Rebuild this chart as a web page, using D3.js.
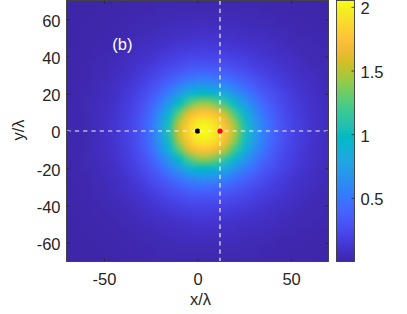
<!DOCTYPE html>
<html>
<head>
<meta charset="utf-8">
<script src="https://cdn.jsdelivr.net/npm/d3@7"></script>
<style>
html,body{margin:0;padding:0;background:#fff;}
svg{display:block;font-family:"Liberation Sans",Arial,Helvetica,sans-serif;}
</style>
</head>
<body>
<svg id="chart" width="407" height="314"></svg>
<script>
// ---- data ----
const xNodes = [-70,-65,-60,-55,-50,-45,-40,-35,-30,-25,-20,-15,-10,-5,0,5,10,15,20,25,30,35,40,45,50,55,60,65,70];
const yNodes = [70,65,60,55,50,45,40,35,30,25,20,15,10,5,0,-5,-10,-15,-20,-25,-30,-35,-40,-45,-50,-55,-60,-65,-70];
// intensity[row][col]; row follows yNodes (top to bottom), col follows xNodes
const intensity = [
[0.00,0.00,0.00,0.00,0.00,0.00,0.01,0.01,0.01,0.02,0.02,0.02,0.02,0.02,0.02,0.02,0.02,0.02,0.02,0.02,0.02,0.02,0.01,0.01,0.01,0.01,0.01,0.00,0.00],
[0.00,0.00,0.00,0.00,0.01,0.01,0.01,0.02,0.02,0.02,0.03,0.03,0.03,0.03,0.03,0.03,0.03,0.03,0.03,0.03,0.03,0.02,0.02,0.02,0.01,0.01,0.01,0.01,0.00],
[0.00,0.00,0.00,0.01,0.01,0.01,0.02,0.02,0.03,0.03,0.04,0.04,0.05,0.05,0.05,0.05,0.05,0.05,0.05,0.04,0.04,0.03,0.03,0.02,0.02,0.02,0.01,0.01,0.01],
[0.00,0.00,0.01,0.01,0.01,0.02,0.02,0.03,0.04,0.04,0.05,0.06,0.07,0.07,0.08,0.08,0.07,0.07,0.07,0.06,0.05,0.05,0.04,0.03,0.03,0.02,0.02,0.01,0.01],
[0.00,0.00,0.01,0.01,0.02,0.02,0.03,0.04,0.05,0.06,0.07,0.08,0.09,0.10,0.11,0.11,0.11,0.10,0.09,0.08,0.08,0.07,0.06,0.05,0.04,0.03,0.03,0.02,0.02],
[0.00,0.01,0.01,0.02,0.02,0.03,0.04,0.05,0.07,0.08,0.10,0.12,0.14,0.15,0.16,0.16,0.15,0.14,0.13,0.12,0.10,0.09,0.08,0.06,0.05,0.04,0.03,0.03,0.02],
[0.01,0.01,0.01,0.02,0.03,0.04,0.05,0.07,0.09,0.11,0.14,0.17,0.19,0.21,0.22,0.22,0.21,0.20,0.18,0.17,0.14,0.12,0.10,0.08,0.07,0.05,0.04,0.03,0.03],
[0.01,0.01,0.02,0.03,0.03,0.05,0.07,0.09,0.12,0.15,0.19,0.23,0.26,0.29,0.31,0.31,0.30,0.28,0.25,0.23,0.19,0.16,0.14,0.11,0.09,0.07,0.05,0.04,0.03],
[0.01,0.01,0.02,0.03,0.04,0.06,0.08,0.11,0.15,0.20,0.25,0.31,0.36,0.42,0.45,0.45,0.43,0.40,0.35,0.31,0.26,0.21,0.17,0.14,0.11,0.08,0.07,0.05,0.04],
[0.01,0.02,0.02,0.04,0.05,0.07,0.10,0.14,0.19,0.25,0.32,0.42,0.51,0.60,0.65,0.66,0.63,0.57,0.49,0.41,0.34,0.27,0.22,0.17,0.13,0.10,0.08,0.06,0.04],
[0.01,0.02,0.03,0.04,0.06,0.08,0.12,0.17,0.23,0.31,0.42,0.56,0.70,0.87,0.96,0.97,0.92,0.81,0.68,0.55,0.44,0.34,0.27,0.21,0.16,0.12,0.09,0.07,0.05],
[0.01,0.02,0.03,0.05,0.07,0.09,0.14,0.19,0.27,0.37,0.52,0.71,0.97,1.22,1.39,1.41,1.31,1.13,0.93,0.71,0.55,0.42,0.32,0.24,0.18,0.14,0.10,0.08,0.06],
[0.02,0.02,0.03,0.05,0.07,0.10,0.15,0.21,0.30,0.43,0.63,0.90,1.26,1.60,1.74,1.76,1.68,1.49,1.18,0.90,0.66,0.49,0.36,0.27,0.20,0.15,0.11,0.08,0.06],
[0.02,0.02,0.03,0.05,0.08,0.11,0.16,0.23,0.32,0.47,0.70,1.03,1.48,1.79,1.95,1.97,1.87,1.69,1.39,1.03,0.74,0.54,0.40,0.29,0.22,0.16,0.12,0.09,0.06],
[0.02,0.02,0.03,0.05,0.08,0.11,0.16,0.23,0.33,0.49,0.72,1.09,1.57,1.85,2.03,2.05,1.94,1.76,1.47,1.08,0.78,0.56,0.41,0.30,0.22,0.17,0.12,0.09,0.07],
[0.02,0.02,0.03,0.05,0.08,0.11,0.16,0.23,0.32,0.47,0.70,1.03,1.48,1.79,1.95,1.97,1.87,1.69,1.39,1.03,0.74,0.54,0.40,0.29,0.22,0.16,0.12,0.09,0.06],
[0.02,0.02,0.03,0.05,0.07,0.10,0.15,0.21,0.30,0.43,0.63,0.90,1.26,1.60,1.74,1.76,1.68,1.49,1.18,0.90,0.66,0.49,0.36,0.27,0.20,0.15,0.11,0.08,0.06],
[0.01,0.02,0.03,0.05,0.07,0.09,0.14,0.19,0.27,0.37,0.52,0.71,0.97,1.22,1.39,1.41,1.31,1.13,0.93,0.71,0.55,0.42,0.32,0.24,0.18,0.14,0.10,0.08,0.06],
[0.01,0.02,0.03,0.04,0.06,0.08,0.12,0.17,0.23,0.31,0.42,0.56,0.70,0.87,0.96,0.97,0.92,0.81,0.68,0.55,0.44,0.34,0.27,0.21,0.16,0.12,0.09,0.07,0.05],
[0.01,0.02,0.02,0.04,0.05,0.07,0.10,0.14,0.19,0.25,0.32,0.42,0.51,0.60,0.65,0.66,0.63,0.57,0.49,0.41,0.34,0.27,0.22,0.17,0.13,0.10,0.08,0.06,0.04],
[0.01,0.01,0.02,0.03,0.04,0.06,0.08,0.11,0.15,0.20,0.25,0.31,0.36,0.42,0.45,0.45,0.43,0.40,0.35,0.31,0.26,0.21,0.17,0.14,0.11,0.08,0.07,0.05,0.04],
[0.01,0.01,0.02,0.03,0.03,0.05,0.07,0.09,0.12,0.15,0.19,0.23,0.26,0.29,0.31,0.31,0.30,0.28,0.25,0.23,0.19,0.16,0.14,0.11,0.09,0.07,0.05,0.04,0.03],
[0.01,0.01,0.01,0.02,0.03,0.04,0.05,0.07,0.09,0.11,0.14,0.17,0.19,0.21,0.22,0.22,0.21,0.20,0.18,0.17,0.14,0.12,0.10,0.08,0.07,0.05,0.04,0.03,0.03],
[0.00,0.01,0.01,0.02,0.02,0.03,0.04,0.05,0.07,0.08,0.10,0.12,0.14,0.15,0.16,0.16,0.15,0.14,0.13,0.12,0.10,0.09,0.08,0.06,0.05,0.04,0.03,0.03,0.02],
[0.00,0.00,0.01,0.01,0.02,0.02,0.03,0.04,0.05,0.06,0.07,0.08,0.09,0.10,0.11,0.11,0.11,0.10,0.09,0.08,0.08,0.07,0.06,0.05,0.04,0.03,0.03,0.02,0.02],
[0.00,0.00,0.01,0.01,0.01,0.02,0.02,0.03,0.04,0.04,0.05,0.06,0.07,0.07,0.08,0.08,0.07,0.07,0.07,0.06,0.05,0.05,0.04,0.03,0.03,0.02,0.02,0.01,0.01],
[0.00,0.00,0.00,0.01,0.01,0.01,0.02,0.02,0.03,0.03,0.04,0.04,0.05,0.05,0.05,0.05,0.05,0.05,0.05,0.04,0.04,0.03,0.03,0.02,0.02,0.02,0.01,0.01,0.01],
[0.00,0.00,0.00,0.00,0.01,0.01,0.01,0.02,0.02,0.02,0.03,0.03,0.03,0.03,0.03,0.03,0.03,0.03,0.03,0.03,0.03,0.02,0.02,0.02,0.01,0.01,0.01,0.01,0.00],
[0.00,0.00,0.00,0.00,0.00,0.00,0.01,0.01,0.01,0.02,0.02,0.02,0.02,0.02,0.02,0.02,0.02,0.02,0.02,0.02,0.02,0.02,0.01,0.01,0.01,0.01,0.01,0.00,0.00]
];
const xTicks = [-50, 0, 50];
const yTicks = [-60, -40, -20, 0, 20, 40, 60];
const colorbarTicks = [0.5, 1, 1.5, 2];
const crossX = 12;          // vertical dashed guide
const crossY = 0;           // horizontal dashed guide
const blackPoint = [0, 0];
const redPoint = [12, 0];
const panelLabel = "(b)";
const panelLabelPos = [-45.5, 43.6];

// parula colormap stops (style)
const parula = ["#3e26a8","#4332cb","#4741e5","#4852f4","#4563fd","#3875fe","#2e87f7","#2796eb",
  "#20a5e3","#12b1d6","#02bac3","#24c1ae","#37c897","#57cc7a","#81cc59","#abc739","#d1bf27",
  "#f0ba36","#fec338","#fad62d","#f5e924","#f9fb15"];

// ---- layout ----
const P = {l: 66.5, r: 328.5, t: 0.5, b: 261.5};
const CB = {l: 336.5, r: 354.5, t: 0.5, b: 261.5};
const textCol = "#262626";
const fontSize = 16.5;

const svg = d3.select("#chart");
const x = d3.scaleLinear().domain([-70, 70]).range([P.l, P.r]);
const y = d3.scaleLinear().domain([-70, 70]).range([P.b, P.t]);
const ext = d3.extent(intensity.flat());
const color = d3.scaleLinear()
  .domain(parula.map((c, i) => ext[0] + i * (ext[1] - ext[0]) / (parula.length - 1)))
  .range(parula).clamp(true);

// ---- heatmap: one pixel per grid node, smoothly upscaled ----
const nx = xNodes.length, ny = yNodes.length;
const small = document.createElement("canvas");
small.width = nx; small.height = ny;
const sctx = small.getContext("2d");
const img = sctx.createImageData(nx, ny);
intensity.forEach((row, j) => row.forEach((v, i) => {
  const c = d3.rgb(color(v));
  const k = (j * nx + i) * 4;
  img.data[k] = c.r; img.data[k + 1] = c.g; img.data[k + 2] = c.b; img.data[k + 3] = 255;
}));
sctx.putImageData(img, 0, 0);

const W = Math.round(P.r - P.l), H = Math.round(P.b - P.t);
const big = document.createElement("canvas");
big.width = W; big.height = H;
const bctx = big.getContext("2d");
bctx.imageSmoothingEnabled = true;
bctx.imageSmoothingQuality = "high";
const x0 = x(xNodes[0]) - P.l, x1 = x(xNodes[nx - 1]) - P.l;
const y0 = y(yNodes[0]) - P.t, y1 = y(yNodes[ny - 1]) - P.t;
const sx = (x1 - x0) / (nx - 1), sy = (y1 - y0) / (ny - 1);
bctx.drawImage(small, x0 - sx / 2, y0 - sy / 2, nx * sx, ny * sy);

svg.append("image")
  .attr("href", big.toDataURL())
  .attr("x", P.l).attr("y", P.t)
  .attr("width", W).attr("height", H)
  .attr("preserveAspectRatio", "none");

// ---- guides and markers ----
svg.append("circle").attr("cx", x(blackPoint[0])).attr("cy", y(blackPoint[1])).attr("r", 2.6).attr("fill", "#000");
svg.append("line")
  .attr("x1", x(-70)).attr("x2", x(70)).attr("y1", y(crossY)).attr("y2", y(crossY))
  .attr("stroke", "#f2f2f2").attr("stroke-width", 1.2).attr("stroke-dasharray", "4.3,4");
svg.append("line")
  .attr("x1", x(crossX)).attr("x2", x(crossX)).attr("y1", y(70)).attr("y2", y(-70))
  .attr("stroke", "#f2f2f2").attr("stroke-width", 1.2).attr("stroke-dasharray", "4.3,4");
svg.append("circle").attr("cx", x(redPoint[0])).attr("cy", y(redPoint[1])).attr("r", 2.6).attr("fill", "#ff0000");

svg.append("text")
  .attr("x", x(panelLabelPos[0])).attr("y", y(panelLabelPos[1]))
  .attr("fill", "#fff").attr("font-size", fontSize).text(panelLabel);

// ---- axes ----
function styleAxis(g, dy) {
  g.select(".domain").remove();
  g.selectAll(".tick line").attr("stroke", textCol).attr("stroke-width", 0.8);
  g.selectAll(".tick text").attr("fill", textCol).attr("font-size", fontSize)
    .attr("font-family", "Liberation Sans, Arial, sans-serif");
  if (dy) g.selectAll(".tick text").attr("dy", dy);
}
svg.append("g").attr("transform", `translate(0,${P.b})`)
  .call(d3.axisBottom(x).tickValues(xTicks).tickSize(-3).tickPadding(12).tickFormat(d => String(d)))
  .call(g => styleAxis(g));
svg.append("g").attr("transform", `translate(0,${P.t})`)
  .call(d3.axisTop(x).tickValues(xTicks).tickSize(-3).tickFormat(""))
  .call(g => styleAxis(g));
svg.append("g").attr("transform", `translate(${P.l},0)`)
  .call(d3.axisLeft(y).tickValues(yTicks).tickSize(-3).tickPadding(6).tickFormat(d => String(d)))
  .call(g => styleAxis(g, "0.42em"));
svg.append("g").attr("transform", `translate(${P.r},0)`)
  .call(d3.axisRight(y).tickValues(yTicks).tickSize(-3).tickFormat(""))
  .call(g => styleAxis(g));

svg.append("rect").attr("x", P.l).attr("y", P.t).attr("width", P.r - P.l).attr("height", P.b - P.t)
  .attr("fill", "none").attr("stroke", "#3a3a3a").attr("stroke-width", 0.9);

svg.append("text").attr("x", 200.5).attr("y", 305).attr("text-anchor", "middle")
  .attr("fill", textCol).attr("font-size", fontSize).text("x/λ");
svg.append("text").attr("transform", "translate(23.5,130) rotate(-90)").attr("text-anchor", "middle")
  .attr("fill", textCol).attr("font-size", fontSize).text("y/λ");

// ---- colorbar ----
const cy = d3.scaleLinear().domain(ext).range([CB.b, CB.t]);
const defs = svg.append("defs");
const grad = defs.append("linearGradient").attr("id", "cbgrad")
  .attr("x1", 0).attr("y1", 1).attr("x2", 0).attr("y2", 0);
parula.forEach((c, i) => grad.append("stop").attr("offset", i / (parula.length - 1)).attr("stop-color", c));
svg.append("rect").attr("x", CB.l).attr("y", CB.t).attr("width", CB.r - CB.l).attr("height", CB.b - CB.t)
  .attr("fill", "url(#cbgrad)");
svg.append("g").attr("transform", `translate(${CB.r},0)`)
  .call(d3.axisRight(cy).tickValues(colorbarTicks).tickSize(-3).tickPadding(6).tickFormat(d => String(d)))
  .call(g => styleAxis(g, "0.42em"));
svg.append("rect").attr("x", CB.l).attr("y", CB.t).attr("width", CB.r - CB.l).attr("height", CB.b - CB.t)
  .attr("fill", "none").attr("stroke", "#3a3a3a").attr("stroke-width", 0.9);
</script>
</body>
</html>
